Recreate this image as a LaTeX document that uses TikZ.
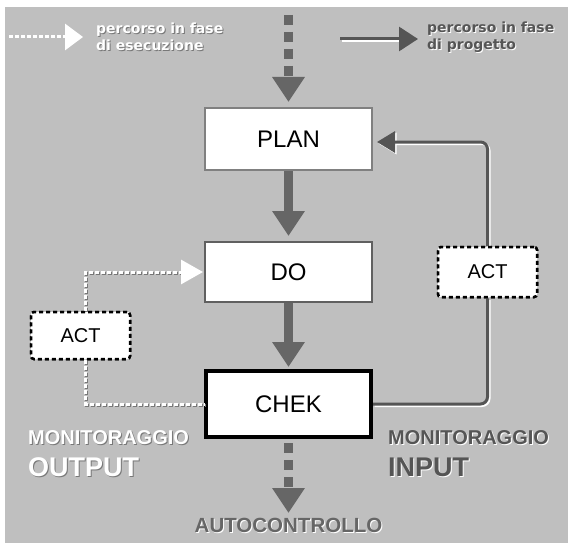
\documentclass[tikz,border=0pt]{standalone}
\usepackage{fontspec}
\setmainfont{Liberation Sans}
\newfontfamily\legfont{DejaVu Sans}
\usetikzlibrary{arrows.meta}
\definecolor{bg}{RGB}{191,191,191}
\definecolor{agray}{RGB}{102,102,102}
\definecolor{dgray}{RGB}{85,85,85}
\definecolor{plangray}{RGB}{128,128,128}
\definecolor{dogray}{RGB}{96,96,96}
\definecolor{shgray}{RGB}{120,120,120}
\newcommand{\shtext}[3]{\makebox[0pt][l]{\kern1pt\raisebox{-1pt}{\textcolor{#1}{#3}}}\textcolor{#2}{#3}}
\tikzset{
  mainbox/.style={draw, fill=white, inner sep=0pt, font=\fontsize{24}{28}\selectfont},
  actbox/.style={draw=black, fill=white, line width=2.5pt, dash pattern=on 4pt off 3pt,
     rounded corners=3pt, minimum width=99pt, inner sep=0pt, font=\fontsize{20}{24}\selectfont},
  bigarrow/.style={draw=agray, line width=9pt, -{Triangle[length=25pt,width=31pt]}},
  bigdash/.style={bigarrow, dash pattern=on 10pt off 7pt},
  whitedot/.style={draw=white, line width=3pt, dash pattern=on 4pt off 2pt},
  whitedotshadow/.style={draw=shgray, line width=3pt, dash pattern=on 4pt off 2pt},
  darkline/.style={draw=dgray, line width=3pt, rounded corners=7pt},
  darkshadow/.style={draw=white, line width=3pt, rounded corners=7pt},
  legtext/.style={inner sep=0pt, align=left, anchor=west, font=\legfont\bfseries\fontsize{14}{17.5}\selectfont},
  lbl/.style={inner sep=0pt, anchor=west, font=\bfseries\fontsize{20}{24}\selectfont},
  biglbl/.style={inner sep=0pt, anchor=west, font=\bfseries\fontsize{27}{30}\selectfont}
}
\begin{document}
\begin{tikzpicture}[x=1pt,y=-1pt]
\useasboundingbox (0,0) rectangle (568,543);
\fill[white] (0,0) rectangle (568,543);
\fill[bg] (5,7) rectangle (568,543);

% main boxes
\node[mainbox, draw=plangray, line width=2pt, minimum width=167pt, minimum height=62pt] (plan) at (288.5,139) {PLAN};
\node[mainbox, draw=dogray, line width=2pt, minimum width=167pt, minimum height=60pt] (do) at (288.5,272) {DO};
\node[mainbox, draw=black, line width=4pt, minimum width=165pt, minimum height=66pt] (chek) at (288.5,404) {CHEK};

% act boxes positions
\coordinate (actLc) at (80.5,335.5);
\coordinate (actRc) at (487.5,272);

% vertical main arrows
\coordinate (topstart) at (288.5,15);
\draw[bigdash, shorten >=5pt] (topstart) -- (plan.north);
\draw[bigarrow, shorten >=5pt] (plan.south) -- (do.north);
\draw[bigarrow, shorten >=2pt] (do.south) -- (chek.north);
\coordinate (autoend) at (288.5,513);
\draw[bigdash, shorten <=4pt] (chek.south) -- (autoend);
\node[inner sep=0pt, font=\bfseries\fontsize{20.5}{24}\selectfont] (auto) at (288.5,526) {\shtext{white}{agray}{AUTOCONTROLLO}};

% right feedback path (progetto)
\node[actbox, minimum height=50pt] (actR) at (actRc) {ACT};
\begin{scope}[transform canvas={shift={(1.5pt,-1.5pt)}}]
\draw[darkshadow] (chek.east) -| (actR.south);
\draw[darkshadow, -{Triangle[length=18pt,width=21pt]}] (actR.north) |- ([yshift=-3pt,xshift=4pt]plan.east);
\end{scope}
\draw[darkline] (chek.east) -| (actR.south);
\draw[darkline, -{Triangle[length=18pt,width=21pt]}] (actR.north) |- ([yshift=-3pt,xshift=4pt]plan.east);
\node[actbox, minimum height=50pt] at (actRc) {ACT};

% left feedback path (esecuzione)
\node[actbox, minimum height=47pt] (actL) at (actLc) {ACT};
\begin{scope}[transform canvas={shift={(1pt,-1pt)}}]
\draw[whitedotshadow] ([xshift=5pt]actL.north) |- ([xshift=-22pt]do.west);
\draw[whitedotshadow] ([xshift=5pt]actL.south) |- (chek.west);
\end{scope}
\draw[whitedot, -{Triangle[length=22pt,width=24pt,fill=white]}] ([xshift=5pt]actL.north) |- ([xshift=-1pt]do.west);
\draw[whitedot] ([xshift=5pt]actL.south) |- (chek.west);
\node[actbox, minimum height=47pt] at (actLc) {ACT};

% legend
\coordinate (l1s) at (9,37);
\coordinate (l1e) at (83,37);
\draw[whitedot, -{Triangle[length=18pt,width=26pt,fill=white]}] (l1s) -- (l1e);
\node[legtext] (leg1) at (96,37.5) {\shtext{shgray}{white}{percorso in fase}\\\shtext{shgray}{white}{di esecuzione}};
\coordinate (l2s) at (340,39);
\coordinate (l2e) at (418,39);
\draw[darkshadow, transform canvas={shift={(1.5pt,-1.5pt)}}] (l2s) -- ([xshift=-18pt]l2e);
\draw[darkline, -{Triangle[length=19pt,width=24pt]}] (l2s) -- (l2e);
\node[legtext] (leg2) at (427,37.5) {\shtext{white}{dgray}{percorso in fase}\\\shtext{white}{dgray}{di progetto}};

% monitoring labels
\node[lbl] (monL) at (28,438) {\shtext{shgray}{white}{MONITORAGGIO}};
\node[biglbl] (outL) at (28,468) {\shtext{shgray}{white}{OUTPUT}};
\node[lbl] (monR) at (388,438) {\shtext{white}{dgray}{MONITORAGGIO}};
\node[biglbl] (inR) at (388,468) {\shtext{white}{dgray}{INPUT}};
\end{tikzpicture}
\end{document}
